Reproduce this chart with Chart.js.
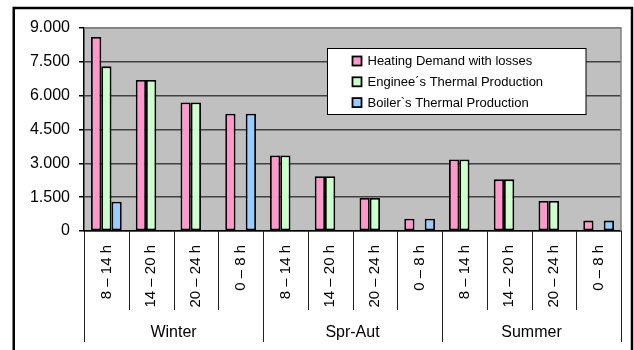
<!DOCTYPE html>
<html>
<head>
<meta charset="utf-8">
<script src="https://cdn.jsdelivr.net/npm/chart.js@4.4.1/dist/chart.umd.min.js"></script>
<style>
  html, body { margin: 0; padding: 0; background: #fff; }
  canvas { display: block; }
</style>
</head>
<body>
<canvas id="c" width="634" height="350"></canvas>
<script>
// Time slots within each season
const slots = ["8 – 14 h", "14 – 20 h", "20 – 24 h", "0 – 8 h",
               "8 – 14 h", "14 – 20 h", "20 – 24 h", "0 – 8 h",
               "8 – 14 h", "14 – 20 h", "20 – 24 h", "0 – 8 h"];
const seasons = ["Winter", "Spr-Aut", "Summer"];
const slotsPerSeason = 4;

// Thermal demand and production (kW)
const heatingDemand = [8600, 6700, 5700, 5200, 3350, 2430, 1460, 540, 3170, 2290, 1330, 460];
const engineProduction = [7300, 6700, 5700, null, 3350, 2430, 1460, null, 3170, 2290, 1330, null];
const boilerProduction = [1300, null, null, 5200, null, null, null, 540, null, null, null, 460];

const seriesNames = ["Heating Demand with losses", "Enginee´s Thermal Production", "Boiler`s Thermal Production"];
const seriesColors = ["#FF99CC", "#CCFFCC", "#99CCFF"];

const yMax = 9000, yStep = 1500;
const FONT = "'Liberation Sans', Arial, sans-serif";

function thousands(v) {
  const s = String(Math.round(v));
  return s.replace(/\B(?=(\d{3})+(?!\d))/g, ".");
}

// White page with the black outer frame
const framePlugin = {
  id: 'frame',
  beforeDraw(chart) {
    const ctx = chart.ctx;
    ctx.save();
    ctx.fillStyle = '#fff';
    ctx.fillRect(0, 0, chart.width, chart.height);
    ctx.strokeStyle = '#000';
    ctx.lineWidth = 2.5;
    ctx.strokeRect(13.75, 8, 632 - 13.75, 360);
    ctx.restore();
  }
};

// Grey plot-area background and its top/right edges
const plotAreaPlugin = {
  id: 'plotArea',
  beforeDatasetsDraw(chart) {},
  beforeDraw(chart) {
    const a = chart.chartArea, ctx = chart.ctx;
    ctx.save();
    ctx.fillStyle = '#C0C0C0';
    ctx.fillRect(a.left, a.top, a.right - a.left, a.bottom - a.top);
    ctx.restore();
  },
  afterDraw(chart) {
    const a = chart.chartArea, ctx = chart.ctx;
    ctx.save();
    ctx.strokeStyle = '#808080';
    ctx.lineWidth = 1.5;
    ctx.beginPath();
    ctx.moveTo(a.left, a.top);
    ctx.lineTo(a.right, a.top);
    ctx.lineTo(a.right, a.bottom);
    ctx.stroke();
    ctx.restore();
  }
};

// Category dividers below the axis and the season labels
const seasonAxisPlugin = {
  id: 'seasonAxis',
  afterDraw(chart) {
    const x = chart.scales.x, ctx = chart.ctx;
    const y0 = chart.chartArea.bottom;
    const n = slots.length;
    const half = (x.getPixelForValue(1) - x.getPixelForValue(0)) / 2;
    ctx.save();
    ctx.strokeStyle = '#222';
    ctx.lineWidth = 1;
    for (let i = 0; i <= n; i++) {
      const px = Math.round(i < n ? x.getPixelForValue(i) - half : x.getPixelForValue(n - 1) + half) + 0.5;
      const isGroup = i % slotsPerSeason === 0;
      ctx.beginPath();
      ctx.moveTo(px, y0);
      ctx.lineTo(px, isGroup ? 342 : 310);
      ctx.stroke();
    }
    ctx.fillStyle = '#000';
    ctx.font = '16px ' + FONT;
    ctx.textAlign = 'center';
    ctx.textBaseline = 'middle';
    seasons.forEach((s, g) => {
      const first = x.getPixelForValue(g * slotsPerSeason) - half;
      const last = x.getPixelForValue(g * slotsPerSeason + slotsPerSeason - 1) + half;
      ctx.fillText(s, (first + last) / 2, 333);
    });
    ctx.restore();
  }
};

// Boxed legend inside the plot area
const boxLegendPlugin = {
  id: 'boxLegend',
  afterDraw(chart) {
    const ctx = chart.ctx;
    const bx = 327.5, by = 48.5, bw = 258.5, bh = 66;
    ctx.save();
    ctx.fillStyle = '#fff';
    ctx.fillRect(bx, by, bw, bh);
    ctx.strokeStyle = '#000';
    ctx.lineWidth = 1;
    ctx.strokeRect(bx, by, bw, bh);
    ctx.font = '13px ' + FONT;
    ctx.textBaseline = 'middle';
    ctx.textAlign = 'left';
    chart.data.datasets.forEach((ds, i) => {
      const cy = 61 + i * 20.8;
      ctx.fillStyle = ds.backgroundColor;
      ctx.fillRect(352.5, cy - 4.5, 9, 9);
      ctx.lineWidth = 1.8;
      ctx.strokeStyle = '#000';
      ctx.strokeRect(352.5, cy - 4.5, 9, 9);
      ctx.fillStyle = '#000';
      ctx.fillText(ds.label, 367.5, cy + 0.5);
    });
    ctx.restore();
  }
};

const datasets = [heatingDemand, engineProduction, boilerProduction].map((vals, i) => ({
  label: seriesNames[i],
  data: vals,
  backgroundColor: seriesColors[i],
  borderColor: '#000',
  borderWidth: 1.8,
  borderSkipped: false,
  categoryPercentage: 0.686,
  barPercentage: 1
}));

new Chart(document.getElementById('c'), {
  type: 'bar',
  data: { labels: slots, datasets },
  plugins: [framePlugin, plotAreaPlugin, seasonAxisPlugin, boxLegendPlugin],
  options: {
    responsive: false,
    animation: false,
    devicePixelRatio: 1,
    layout: { padding: { left: 0, right: 13, top: 28, bottom: 0 } },
    plugins: { legend: { display: false }, tooltip: { enabled: false } },
    scales: {
      x: {
        offset: true,
        grid: { display: false, drawTicks: false },
        border: { display: true, color: '#000', width: 1.5 },
        ticks: {
          minRotation: 90, maxRotation: 90, autoSkip: false,
          padding: 14,
          color: '#000',
          font: { family: FONT, size: 15 }
        },
        afterFit(s) { s.height = 119; }
      },
      y: {
        min: 0, max: yMax,
        grid: {
          color: ctx => (ctx.tick && ctx.tick.value === yMax) ? '#808080' : '#404040',
          lineWidth: 1.5,
          tickLength: 5,
          tickColor: '#000'
        },
        border: { display: true, color: '#000', width: 1.5 },
        ticks: {
          stepSize: yStep,
          padding: 9,
          color: '#000',
          font: { family: FONT, size: 16 },
          callback: v => thousands(v)
        },
        afterFit(s) { s.width = 84; }
      }
    }
  }
});
</script>
</body>
</html>
